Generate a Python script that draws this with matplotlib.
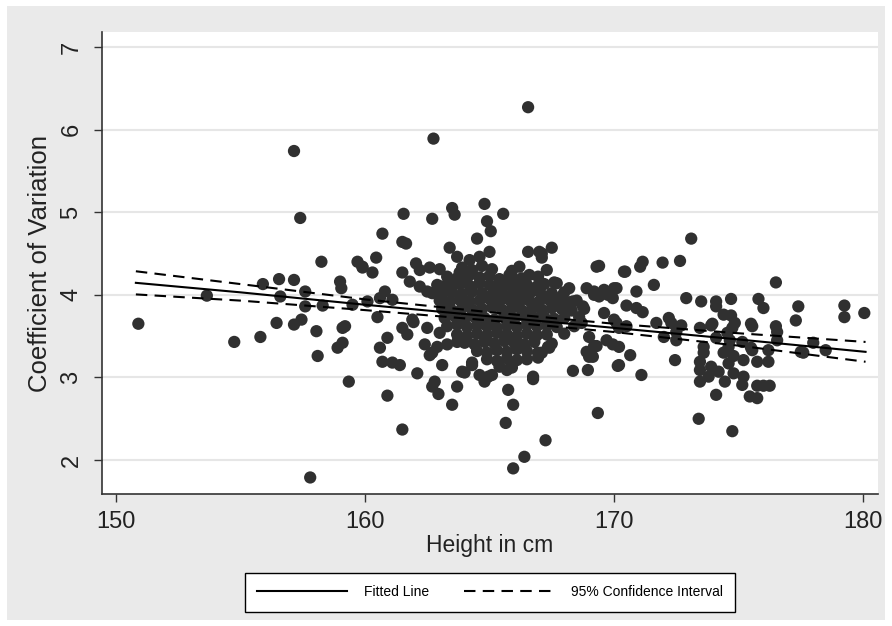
import numpy as np
import matplotlib
matplotlib.use('Agg')
import matplotlib.pyplot as plt
from matplotlib.lines import Line2D
from matplotlib.patches import Rectangle

plt.rcParams['font.family'] = ['Liberation Sans', 'DejaVu Sans']

# 左侧 / 离群点
left_h = [150.9, 153.65, 154.75, 155.8, 155.9, 156.45, 156.55, 156.6,
          157.15, 157.15, 157.15, 157.4, 157.45, 157.6, 157.6, 157.8,
          158.05, 158.1, 158.25, 158.3, 159.0, 159.05, 159.1, 159.2,
          158.9, 159.1, 159.35, 159.5, 159.7, 159.9, 160.1]
left_cv = [3.65, 3.99, 3.43, 3.49, 4.13, 3.66, 4.19, 3.98,
           4.18, 3.64, 5.74, 4.93, 3.70, 4.04, 3.86, 1.79,
           3.56, 3.26, 4.40, 3.87, 4.16, 4.08, 3.60, 3.62,
           3.36, 3.42, 2.95, 3.88, 4.40, 4.34, 3.92]

# 上方
upper_h = [166.55, 162.75, 161.55, 162.7, 163.5, 163.6, 164.8, 164.9, 165.05, 165.55,
           160.7, 161.5, 161.65, 164.5, 163.4, 163.7, 164.2, 160.45, 159.9, 160.3,
           166.55, 167.1, 167.5, 167.3, 166.95, 169.3, 164.6, 165.0, 162.05, 161.5,
           162.2, 162.6, 163.0, 164.0, 165.8, 166.4, 167.7, 168.2, 168.9, 160.5, 161.9]
upper_cv = [6.27, 5.89, 4.98, 4.92, 5.05, 4.97, 5.10, 4.89, 4.77, 4.98,
            4.74, 4.64, 4.62, 4.68, 4.57, 4.46, 4.42, 4.45, 4.33, 4.27,
            4.52, 4.50, 4.57, 4.30, 4.22, 4.34, 4.46, 4.52, 4.38, 4.27,
            4.30, 4.33, 4.31, 4.27, 4.24, 4.16, 4.14, 4.08, 4.08, 3.73, 3.70]

# 中左
midl_h = [161.8, 162.2, 162.5, 160.8, 160.6, 161.1, 162.5, 161.5, 161.7, 160.9,
          160.6, 162.4, 162.9, 163.3, 162.7, 160.7, 161.1, 161.4, 163.1, 162.1,
          163.9, 164.3, 164.6, 163.7, 163.0, 163.1, 163.5, 163.8, 164.1, 161.95]
midl_cv = [4.16, 4.10, 4.04, 4.04, 3.96, 3.94, 3.60, 3.60, 3.52, 3.48,
           3.36, 3.40, 3.37, 3.40, 3.30, 3.19, 3.18, 3.15, 3.15, 3.05,
           3.07, 3.15, 3.03, 3.43, 3.54, 4.10, 4.16, 4.27, 4.22, 3.67]

# 中右
midr_h = [167.0, 167.1, 170.4, 167.6, 169.2, 169.6, 170.0, 167.9, 168.35, 168.75,
          169.6, 170.0, 170.5, 169.0, 169.3, 168.9, 169.0, 170.2, 170.2, 167.35,
          166.95, 166.95, 165.7, 168.35, 168.95, 166.75, 165.1]
midr_cv = [4.52, 4.45, 4.28, 4.15, 4.04, 4.06, 4.08, 3.98, 3.92, 3.86,
           3.78, 3.70, 3.62, 3.49, 3.38, 3.31, 3.25, 3.37, 3.15, 3.37,
           3.30, 3.24, 3.09, 3.08, 3.09, 3.01, 3.03]

# 下方
low_h = [160.9, 161.5, 162.6, 162.7, 162.8, 162.95, 163.7, 163.5, 164.0, 164.8,
         164.95, 165.65, 165.75, 165.95, 165.95, 166.4, 166.75, 167.25, 167.4, 169.35,
         169.15, 169.2, 164.3]
low_cv = [2.78, 2.37, 3.27, 2.89, 2.95, 2.80, 2.89, 2.67, 3.06, 2.95,
          3.01, 2.45, 2.85, 2.67, 1.90, 2.04, 2.98, 2.24, 3.36, 2.57,
          3.25, 3.38, 3.18]

# 右侧
right_h = [173.1, 169.4, 170.45, 171.05, 171.15, 171.95, 172.65, 171.6, 170.9, 169.2,
           169.4, 169.75, 169.95, 170.1, 172.9, 173.5, 174.1, 174.7, 175.8, 176.5,
           176.0, 177.4, 177.3, 179.25, 179.25, 180.05, 174.1, 174.4, 174.7, 174.85,
           173.95, 175.5, 176.5, 173.45, 172.2, 171.7, 172.3, 172.7, 170.5, 170.9,
           171.15, 168.7, 170.1, 170.2, 172.5, 172.5, 172.0, 176.55, 176.2, 178.0,
           178.5, 177.6, 175.5, 175.15, 174.1, 173.9, 174.65, 174.6, 174.8, 174.4,
           173.6, 173.6, 173.45, 173.45, 173.45, 173.9, 173.8, 174.2, 174.45, 174.6,
           174.8, 175.2, 175.75, 176.2, 175.2, 175.15, 175.75, 176.0, 176.25, 174.1,
           175.45, 175.75, 173.4, 174.75, 171.1, 170.15, 170.65, 169.1, 169.7, 169.95,
           172.45, 177.5, 175.55, 174.55, 174.75, 176.55, 175.55]
right_cv = [4.68, 4.35, 4.28, 4.34, 4.40, 4.39, 4.41, 4.12, 4.04, 4.00,
            3.98, 4.00, 3.96, 4.08, 3.96, 3.92, 3.92, 3.95, 3.95, 4.15,
            3.84, 3.86, 3.69, 3.87, 3.73, 3.78, 3.86, 3.76, 3.75, 3.66,
            3.65, 3.65, 3.62, 3.60, 3.72, 3.66, 3.66, 3.63, 3.87, 3.84,
            3.79, 3.66, 3.66, 3.60, 3.55, 3.45, 3.49, 3.45, 3.33, 3.42,
            3.33, 3.30, 3.36, 3.43, 3.48, 3.63, 3.45, 3.37, 3.26, 3.30,
            3.37, 3.30, 3.19, 3.09, 2.95, 3.13, 3.01, 3.07, 2.95, 3.17,
            3.05, 3.21, 3.19, 3.19, 3.01, 2.91, 2.90, 2.90, 2.90, 2.79,
            2.77, 2.75, 2.50, 2.35, 3.03, 3.14, 3.27, 3.26, 3.45, 3.40,
            3.21, 3.31, 3.33, 3.54, 3.60, 3.55, 3.62]

# 中间密集区
core_h = [163.9, 164.3, 164.7, 165.1, 165.9, 166.2,
          163.3, 163.7, 164.2, 164.6, 165.0, 165.4, 165.9, 166.3, 166.6,
          162.9, 163.3, 163.8, 164.2, 164.6, 165.0, 165.3, 165.7, 166.1, 166.5, 166.9, 167.2,
          162.7, 163.1, 163.5, 163.9, 164.3, 164.7, 165.1, 165.5, 165.9, 166.3, 166.7, 167.1, 167.5, 168.0,
          163.0, 163.4, 163.8, 164.2, 164.6, 165.0, 165.4, 165.8, 166.2, 166.6, 167.0, 167.4, 167.8, 168.2, 168.5,
          163.1, 163.5, 163.9, 164.3, 164.7, 165.1, 165.5, 165.9, 166.3, 166.7, 167.1, 167.5, 167.9, 168.3, 168.8,
          163.2, 163.6, 164.0, 164.4, 164.8, 165.2, 165.6, 166.0, 166.4, 166.8, 167.2, 167.6, 168.0, 168.6,
          163.3, 163.7, 164.1, 164.5, 164.9, 165.3, 165.7, 166.1, 166.5, 166.9, 167.3, 167.7, 168.4,
          163.7, 164.1, 164.5, 164.9, 165.3, 165.7, 166.1, 166.5, 166.9, 167.3, 168.0,
          164.0, 164.4, 164.8, 165.2, 165.6, 166.0, 166.4, 166.8, 167.5,
          164.5, 164.9, 165.3, 165.7, 166.1, 166.5, 167.1,
          164.9, 165.3, 165.7, 166.1, 166.5,
          165.4, 165.9]
core_cv = [4.33, 4.30, 4.35, 4.31, 4.29, 4.34,
           4.22, 4.20, 4.24, 4.21, 4.23, 4.19, 4.22, 4.20, 4.24,
           4.12, 4.10, 4.13, 4.11, 4.14, 4.12, 4.10, 4.13, 4.11, 4.12, 4.10, 4.13,
           4.02, 4.00, 4.03, 4.01, 4.04, 4.02, 4.00, 4.03, 4.01, 4.02, 4.04, 4.00, 4.02, 4.03,
           3.93, 3.91, 3.94, 3.92, 3.93, 3.95, 3.92, 3.94, 3.91, 3.93, 3.92, 3.94, 3.93, 3.91, 3.93,
           3.83, 3.81, 3.84, 3.82, 3.83, 3.85, 3.82, 3.84, 3.81, 3.83, 3.82, 3.84, 3.83, 3.81, 3.83,
           3.72, 3.74, 3.71, 3.73, 3.72, 3.70, 3.73, 3.71, 3.74, 3.72, 3.73, 3.71, 3.72, 3.73,
           3.62, 3.64, 3.61, 3.63, 3.62, 3.60, 3.63, 3.61, 3.64, 3.62, 3.63, 3.61, 3.62,
           3.52, 3.50, 3.53, 3.51, 3.54, 3.52, 3.50, 3.53, 3.51, 3.52, 3.53,
           3.42, 3.40, 3.43, 3.41, 3.44, 3.42, 3.40, 3.43, 3.41,
           3.32, 3.30, 3.33, 3.31, 3.34, 3.32, 3.30,
           3.22, 3.20, 3.23, 3.21, 3.22,
           3.13, 3.12]

height = np.array(left_h + upper_h + midl_h + midr_h + low_h + right_h + core_h)
cv = np.array(left_cv + upper_cv + midl_cv + midr_cv + low_cv + right_cv + core_cv)

# 拟合线与95%置信区间
fit_x = [150.8, 155, 160, 165, 170, 175, 180.1]
fit_y = [4.145, 4.03, 3.88, 3.74, 3.60, 3.46, 3.31]
ci_hi = [4.285, 4.13, 3.945, 3.79, 3.65, 3.535, 3.43]
ci_lo = [4.005, 3.93, 3.815, 3.69, 3.55, 3.385, 3.19]

fig = plt.figure(figsize=(8.92, 6.26), dpi=100, facecolor='white')
fig.patches.append(Rectangle((7 / 892, 6 / 626), 878 / 892, 614 / 626,
                             transform=fig.transFigure, facecolor='#eaeaea',
                             edgecolor='none', zorder=-10))
ax = fig.add_axes([102 / 892, 1 - 494 / 626, 776 / 892, 462 / 626])
ax.set_zorder(1)
ax.set_facecolor('white')

ax.scatter(height, cv, s=78, color='#303030', edgecolors='none', zorder=3)
ax.plot(fit_x, fit_y, color='black', lw=1.5, zorder=4)
ax.plot(fit_x, ci_hi, color='black', lw=1.5, dashes=(5.5, 3.5), zorder=4)
ax.plot(fit_x, ci_lo, color='black', lw=1.5, dashes=(5.5, 3.5), zorder=4)

ax.set_xlim(149.44, 180.6)
ax.set_ylim(1.59, 7.18)
ax.set_xticks([150, 160, 170, 180])
ax.set_yticks([2, 3, 4, 5, 6, 7])
ax.yaxis.grid(True, color='#e6e6e6', lw=1.5)
ax.set_axisbelow(True)
for s in ['top', 'right']:
    ax.spines[s].set_visible(False)
for s in ['left', 'bottom']:
    ax.spines[s].set_color('#333333')
    ax.spines[s].set_linewidth(1.2)
ax.tick_params(axis='both', length=6, width=1, color='#333333', labelsize=17, labelcolor='#222222')
ax.tick_params(axis='y', pad=8)
ax.tick_params(axis='x', pad=6)
plt.setp(ax.get_yticklabels(), rotation=90, va='center')

ax.set_xlabel('Height in cm', fontsize=16.5, color='#222222', labelpad=1)
ax.set_ylabel('Coefficient of Variation', fontsize=18.5, color='#222222', labelpad=6)

handles = [Line2D([], [], color='black', lw=1.5),
           Line2D([], [], color='black', lw=1.5, dashes=(5.5, 3.5))]
leg = fig.legend(handles, ['Fitted Line', '95% Confidence Interval'],
                 loc='center', bbox_to_anchor=(490 / 892, 1 - 592 / 626),
                 ncol=2, fontsize=10, handlelength=6.5, columnspacing=2.5,
                 frameon=True, fancybox=False, edgecolor='black', facecolor='white',
                 framealpha=1, borderpad=0.9, handletextpad=1.2)
leg.get_frame().set_linewidth(1.0)

plt.savefig('out.png', dpi=100, facecolor='white')
